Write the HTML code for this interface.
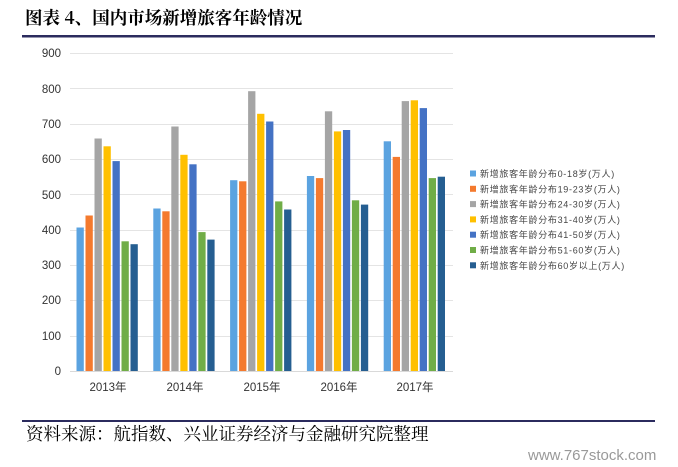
<!DOCTYPE html>
<html><head><meta charset="utf-8"><style>
body{margin:0;background:#fff;width:678px;height:467px;overflow:hidden}
svg{display:block}
</style></head><body>
<svg width="678" height="467" xmlns="http://www.w3.org/2000/svg" font-family="Liberation Sans, Noto Sans CJK SC, sans-serif">
<text x="25" y="24" font-size="17.5" font-weight="bold" font-family="Noto Serif CJK SC, serif" fill="#000">图表 4、国内市场新增旅客年龄情况</text>
<rect x="22" y="35" width="633" height="2.5" fill="#2b2b5e"/>
<g stroke="#e4e4e4" stroke-width="1">
<line x1="70" x2="453" y1="53.5" y2="53.5"/><line x1="70" x2="453" y1="88.5" y2="88.5"/><line x1="70" x2="453" y1="124.5" y2="124.5"/><line x1="70" x2="453" y1="159.5" y2="159.5"/><line x1="70" x2="453" y1="194.5" y2="194.5"/><line x1="70" x2="453" y1="230.5" y2="230.5"/><line x1="70" x2="453" y1="265.5" y2="265.5"/><line x1="70" x2="453" y1="300.5" y2="300.5"/><line x1="70" x2="453" y1="336.5" y2="336.5"/>
</g>
<g font-size="11.5" fill="#333" text-anchor="end">
<text x="61" y="57">900</text><text x="61" y="93">800</text><text x="61" y="128">700</text><text x="61" y="163">600</text><text x="61" y="199">500</text><text x="61" y="234">400</text><text x="61" y="269">300</text><text x="61" y="304">200</text><text x="61" y="340">100</text><text x="61" y="375">0</text>
</g>
<g transform="translate(0,371) scale(1,-1)">
<g fill="#5BA3E0"><rect x="76.5" y="0" width="7.3" height="143.5"/><rect x="153.3" y="0" width="7.3" height="162.5"/><rect x="230.1" y="0" width="7.3" height="190.8"/><rect x="306.9" y="0" width="7.3" height="195"/><rect x="383.7" y="0" width="7.3" height="229.7"/></g>
<g fill="#F47A2E"><rect x="85.5" y="0" width="7.3" height="155.5"/><rect x="162.3" y="0" width="7.3" height="159.7"/><rect x="239.1" y="0" width="7.3" height="189.7"/><rect x="315.9" y="0" width="7.3" height="192.9"/><rect x="392.7" y="0" width="7.3" height="214.1"/></g>
<g fill="#A5A5A5"><rect x="94.5" y="0" width="7.3" height="232.5"/><rect x="171.3" y="0" width="7.3" height="244.5"/><rect x="248.1" y="0" width="7.3" height="279.8"/><rect x="324.9" y="0" width="7.3" height="259.7"/><rect x="401.7" y="0" width="7.3" height="269.9"/></g>
<g fill="#FFC000"><rect x="103.5" y="0" width="7.3" height="224.7"/><rect x="180.3" y="0" width="7.3" height="216.2"/><rect x="257.1" y="0" width="7.3" height="257.2"/><rect x="333.9" y="0" width="7.3" height="239.6"/><rect x="410.7" y="0" width="7.3" height="270.7"/></g>
<g fill="#4472C4"><rect x="112.5" y="0" width="7.3" height="209.9"/><rect x="189.3" y="0" width="7.3" height="206.7"/><rect x="266.1" y="0" width="7.3" height="249.5"/><rect x="342.9" y="0" width="7.3" height="241"/><rect x="419.7" y="0" width="7.3" height="262.9"/></g>
<g fill="#70AD47"><rect x="121.5" y="0" width="7.3" height="129.7"/><rect x="198.3" y="0" width="7.3" height="138.9"/><rect x="275.1" y="0" width="7.3" height="169.6"/><rect x="351.9" y="0" width="7.3" height="170.7"/><rect x="428.7" y="0" width="7.3" height="192.9"/></g>
<g fill="#255E91"><rect x="130.5" y="0" width="7.3" height="126.8"/><rect x="207.3" y="0" width="7.3" height="131.4"/><rect x="284.1" y="0" width="7.3" height="161.5"/><rect x="360.9" y="0" width="7.3" height="166.4"/><rect x="437.7" y="0" width="7.3" height="194.3"/></g>
</g>
<line x1="70" x2="453" y1="371.5" y2="371.5" stroke="#d9d9d9"/>
<g font-size="11.5" fill="#333" text-anchor="middle">
<text x="108" y="391">2013年</text><text x="185" y="391">2014年</text><text x="262" y="391">2015年</text><text x="339" y="391">2016年</text><text x="415" y="391">2017年</text>
</g>
<g font-size="9" fill="#444" letter-spacing="0.7">
<rect x="470" y="170.5" width="6" height="6" fill="#5BA3E0"/><text x="480" y="177">新增旅客年龄分布0-18岁(万人)</text>
<rect x="470" y="185.8" width="6" height="6" fill="#F47A2E"/><text x="480" y="192.3">新增旅客年龄分布19-23岁(万人)</text>
<rect x="470" y="201.1" width="6" height="6" fill="#A5A5A5"/><text x="480" y="207.6">新增旅客年龄分布24-30岁(万人)</text>
<rect x="470" y="216.4" width="6" height="6" fill="#FFC000"/><text x="480" y="222.9">新增旅客年龄分布31-40岁(万人)</text>
<rect x="470" y="231.7" width="6" height="6" fill="#4472C4"/><text x="480" y="238.2">新增旅客年龄分布41-50岁(万人)</text>
<rect x="470" y="247" width="6" height="6" fill="#70AD47"/><text x="480" y="253.5">新增旅客年龄分布51-60岁(万人)</text>
<rect x="470" y="262.3" width="6" height="6" fill="#255E91"/><text x="480" y="268.8">新增旅客年龄分布60岁以上(万人)</text>
</g>
<rect x="22" y="420" width="633" height="2" fill="#2b2b5e"/>
<text x="26" y="440" font-size="17.5" font-family="Noto Serif CJK SC, serif" fill="#000">资料来源：航指数、兴业证券经济与金融研究院整理</text>
<text x="528" y="460" font-size="15" fill="#999">www.767stock.com</text>
</svg>
</body></html>
